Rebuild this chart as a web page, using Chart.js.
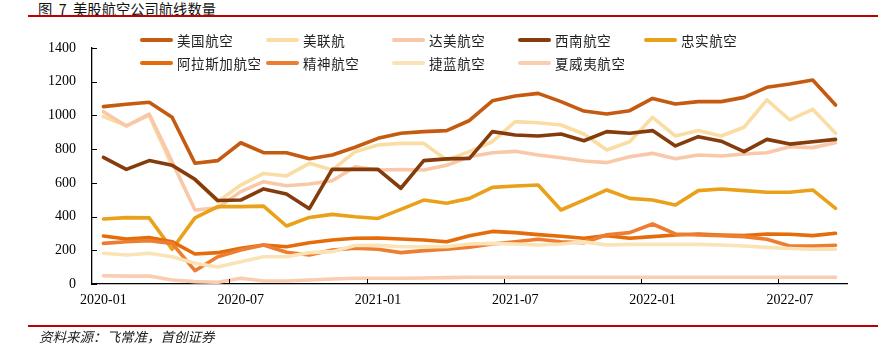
<!DOCTYPE html>
<html>
<head>
<meta charset="utf-8">
<script src="https://cdn.jsdelivr.net/npm/chart.js@4.4.1/dist/chart.umd.min.js"></script>
<style>
  html, body { margin: 0; padding: 0; background: #fff; }
  #wrap { position: relative; width: 878px; height: 351px; overflow: hidden; }
  #grafica { position: absolute; left: 0; top: 0; }
  .titulo { position: absolute; left: 38px; top: -2px; font: 14.3px "Noto Sans CJK SC", sans-serif; color: #111; white-space: pre; }
  .raya { position: absolute; left: 28px; right: 0; height: 2px; background: #c00000; }
  .fuente { position: absolute; left: 39px; top: 326px; font: italic 13.5px "Noto Sans CJK SC", sans-serif; color: #222; }
  #leyenda { position: absolute; left: 140px; top: 30px; display: grid; grid-template-columns: repeat(5, 126px); row-gap: 3px; }
  .item { display: flex; align-items: center; height: 20px; font: 13.5px "Noto Sans CJK SC", sans-serif; color: #222; letter-spacing: 0.6px; white-space: nowrap; }
  .item i { display: inline-block; width: 33px; height: 4px; border-radius: 2px; margin-right: 4px; }
</style>
</head>
<body>
<div id="wrap">
  <div class="titulo">图  7  美股航空公司航线数量</div>
  <div class="raya" style="top:15px"></div>
  <canvas id="grafica" width="878" height="351"></canvas>
  <div id="leyenda"></div>
  <div class="raya" style="top:325px"></div>
  <div class="fuente">资料来源：飞常准，首创证券</div>
</div>
<script>
// meses 2020-01 ... 2022-09
const months = [];
for (let y = 2020; y <= 2022; y++) {
    for (let m = 1; m <= 12; m++) {
        if (y === 2022 && m > 9) break;
        months.push(y + '-' + String(m).padStart(2, '0'));
    }
}

const airlines = ['美国航空', '美联航', '达美航空', '西南航空', '忠实航空', '阿拉斯加航空', '精神航空', '捷蓝航空', '夏威夷航空'];
const colors = ['#C55A11', '#F9DDA4', '#F8C8A9', '#843C0C', '#EAA11A', '#E46C0A', '#ED7D31', '#FAE3B6', '#F9CDB1'];

const american = [1052, 1066, 1078, 989, 716, 732, 838, 779, 779, 743, 765, 811, 864, 894, 904, 910, 970, 1087, 1115, 1131, 1082, 1026, 1008, 1028, 1101, 1068, 1082, 1082, 1107, 1167, 1186, 1210, 1062];
const united = [993, 940, 1000, 700, 617, 488, 587, 656, 641, 716, 676, 785, 825, 834, 834, 736, 785, 844, 963, 957, 943, 890, 795, 844, 989, 878, 910, 878, 930, 1092, 973, 1036, 894];
const delta = [1022, 937, 1008, 726, 439, 452, 548, 607, 583, 593, 613, 696, 676, 679, 676, 704, 755, 779, 787, 765, 749, 730, 720, 755, 775, 743, 765, 759, 771, 779, 814, 809, 838];
const southwest = [751, 680, 732, 704, 621, 495, 498, 564, 534, 447, 680, 680, 680, 568, 732, 742, 745, 904, 884, 878, 890, 850, 904, 894, 910, 819, 874, 847, 785, 858, 830, 844, 858];
const allegiant = [386, 394, 392, 206, 392, 459, 459, 462, 344, 395, 413, 399, 389, 443, 498, 479, 508, 573, 581, 587, 439, 498, 558, 508, 498, 469, 554, 564, 554, 544, 544, 558, 449];
const alaska = [285, 267, 275, 251, 178, 186, 212, 231, 221, 245, 261, 271, 273, 267, 261, 251, 286, 312, 305, 293, 283, 271, 287, 271, 281, 291, 297, 291, 287, 297, 295, 287, 301];
const spirit = [241, 251, 257, 241, 79, 162, 202, 231, 188, 172, 202, 212, 206, 186, 198, 206, 218, 237, 251, 265, 251, 245, 292, 305, 356, 297, 291, 287, 281, 265, 225, 225, 230];
const jetblue = [182, 172, 182, 162, 123, 101, 132, 162, 162, 186, 192, 228, 229, 221, 221, 221, 237, 241, 237, 231, 237, 250, 231, 235, 235, 235, 235, 231, 225, 217, 211, 206, 206];
const hawaiian = [49, 47, 47, 24, 14, 10, 34, 18, 18, 24, 30, 34, 34, 34, 36, 38, 40, 40, 40, 40, 40, 40, 40, 40, 40, 40, 40, 40, 40, 40, 40, 40, 40];

const series = [american, united, delta, southwest, allegiant, alaska, spirit, jetblue, hawaiian];
const yTicks = [0, 200, 400, 600, 800, 1000, 1200, 1400];

// leyenda en html, columnas fijas como en el original
const leyenda = document.getElementById('leyenda');
airlines.forEach((name, i) => {
    const d = document.createElement('div');
    d.className = 'item';
    d.innerHTML = '<i style="background:' + colors[i] + '"></i>' + name;
    leyenda.appendChild(d);
});

// marcas de los ejes hacia dentro
const innerTicks = {
    id: 'innerTicks',
    afterDraw(chart) {
        const { ctx, scales: { x, y } } = chart;
        ctx.save();
        ctx.strokeStyle = '#000';
        ctx.lineWidth = 1;
        ctx.beginPath();
        yTicks.forEach(v => {
            const py = Math.round(y.getPixelForValue(v)) + 0.5;
            ctx.moveTo(x.left, py);
            ctx.lineTo(x.left + 5, py);
        });
        for (let i = 6; i < months.length; i += 6) {
            const px = Math.round((x.getPixelForValue(i - 1) + x.getPixelForValue(i)) / 2) + 0.5;
            ctx.moveTo(px, y.bottom);
            ctx.lineTo(px, y.bottom - 5);
        }
        ctx.stroke();
        ctx.restore();
    }
};

Chart.defaults.font.family = '"Liberation Serif", "Times New Roman", serif';
Chart.defaults.font.size = 14;
Chart.defaults.color = '#000';

new Chart(document.getElementById('grafica').getContext('2d'), {
    type: 'line',
    data: {
        labels: months,
        datasets: series.map((values, i) => ({
            label: airlines[i],
            data: values,
            borderColor: colors[i],
            backgroundColor: colors[i],
            borderWidth: 3.6,
            borderJoinStyle: 'round',
            borderCapStyle: 'round',
            pointRadius: 0,
            tension: 0,
            order: series.length - i
        }))
    },
    options: {
        responsive: false,
        animation: false,
        events: [],
        layout: { padding: { top: 48, right: 31, bottom: 0, left: 0 } },
        plugins: { legend: { display: false }, tooltip: { enabled: false } },
        scales: {
            x: {
                offset: true,
                grid: { display: false, drawTicks: false },
                border: { display: true, color: '#000', width: 1.3 },
                ticks: {
                    autoSkip: false,
                    maxRotation: 0,
                    padding: 8,
                    callback: (v, i) => (i % 6 === 0 ? months[i] : '')
                },
                afterFit: (s) => { s.height = 67; }
            },
            y: {
                min: 0,
                max: 1400,
                grid: { display: false, drawTicks: false },
                border: { display: true, color: '#000', width: 1.3 },
                ticks: { stepSize: 200, padding: 16, callback: (v) => String(v) },
                afterFit: (s) => { s.width = 92; }
            }
        }
    },
    plugins: [innerTicks]
});
</script>
</body>
</html>
